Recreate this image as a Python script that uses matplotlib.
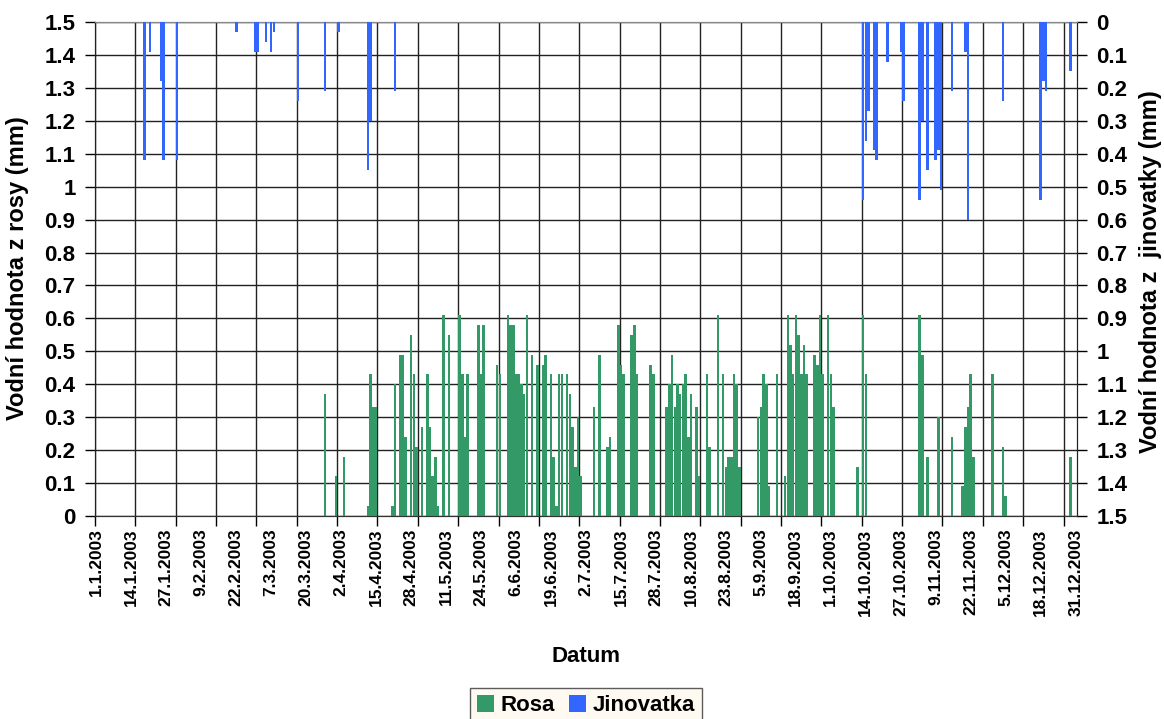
import matplotlib
matplotlib.use('Agg')
import matplotlib.pyplot as plt
import numpy as np
from matplotlib.patches import Patch
from matplotlib.ticker import FuncFormatter

plt.rcParams['font.family'] = ['Liberation Sans', 'DejaVu Sans']
plt.rcParams['font.weight'] = 'bold'

N_DAYS = 365
tick_labels = ['1.1.2003', '14.1.2003', '27.1.2003', '9.2.2003', '22.2.2003', '7.3.2003',
               '20.3.2003', '2.4.2003', '15.4.2003', '28.4.2003', '11.5.2003', '24.5.2003',
               '6.6.2003', '19.6.2003', '2.7.2003', '15.7.2003', '28.7.2003', '10.8.2003',
               '23.8.2003', '5.9.2003', '18.9.2003', '1.10.2003', '14.10.2003', '27.10.2003',
               '9.11.2003', '22.11.2003', '5.12.2003', '18.12.2003', '31.12.2003']
label_days = list(range(0, 365, 13))

# Rosa (dew) - day of year index (0 = 1.1.2003) and value in mm
rosa_days = [85, 89, 92, 101, 102, 103, 104, 110, 111, 113, 114, 115, 117, 118, 119, 121,
             123, 124, 125, 126, 127, 129, 131, 135, 136, 137, 138, 142, 143, 144, 149, 150,
             153, 154, 155, 156, 157, 158, 159, 160, 162, 164, 166, 167, 169, 170, 171, 172,
             173, 175, 176, 177, 178, 179, 180, 185, 187, 190, 191, 194, 195, 196, 199, 200,
             201, 206, 207, 212, 213, 214, 215, 216, 217, 218, 219, 220, 221, 223, 224, 227,
             228, 231, 233, 234, 235, 236, 237, 238, 239, 246, 247, 248, 249, 250, 253, 256,
             257, 258, 259, 260, 261, 262, 263, 264, 267, 268, 269, 270, 272, 273, 274, 283,
             285, 286, 306, 307, 309, 313, 318, 322, 323, 324, 325, 326, 333, 337, 338, 362]
rosa_values = [0.37, 0.12, 0.18, 0.03, 0.43, 0.33, 0.33, 0.03, 0.40, 0.49, 0.49, 0.24, 0.55, 0.43, 0.21, 0.27,
               0.43, 0.27, 0.12, 0.18, 0.03, 0.61, 0.55, 0.61, 0.43, 0.24, 0.43, 0.58, 0.43, 0.58, 0.46, 0.43,
               0.61, 0.58, 0.58, 0.43, 0.43, 0.40, 0.37, 0.61, 0.49, 0.46, 0.46, 0.49, 0.43, 0.18, 0.03, 0.43,
               0.43, 0.43, 0.37, 0.27, 0.15, 0.30, 0.12, 0.33, 0.49, 0.21, 0.24, 0.58, 0.46, 0.43, 0.55, 0.58,
               0.43, 0.46, 0.43, 0.33, 0.40, 0.49, 0.33, 0.40, 0.37, 0.40, 0.43, 0.24, 0.37, 0.33, 0.12, 0.43,
               0.21, 0.61, 0.43, 0.15, 0.18, 0.18, 0.43, 0.40, 0.15, 0.30, 0.33, 0.43, 0.40, 0.09, 0.43, 0.12,
               0.61, 0.52, 0.43, 0.61, 0.55, 0.43, 0.52, 0.43, 0.49, 0.46, 0.61, 0.43, 0.61, 0.43, 0.33, 0.15,
               0.61, 0.43, 0.61, 0.49, 0.18, 0.30, 0.24, 0.09, 0.27, 0.33, 0.43, 0.18, 0.43, 0.21, 0.06, 0.18]

# Jinovatka (hoarfrost)
jin_days = [18, 20, 24, 25, 30, 52, 59, 60, 63, 65, 66, 75, 85, 90, 101, 102, 111,
            285, 286, 287, 289, 290, 294, 299, 300, 306, 307, 309, 312, 313, 314, 318,
            323, 324, 337, 351, 352, 353, 362]
jin_values = [0.42, 0.09, 0.18, 0.42, 0.42, 0.03, 0.09, 0.09, 0.06, 0.09, 0.03, 0.24, 0.21, 0.03, 0.45, 0.30, 0.21,
              0.54, 0.36, 0.27, 0.39, 0.42, 0.12, 0.09, 0.24, 0.54, 0.30, 0.45, 0.42, 0.39, 0.51, 0.21,
              0.09, 0.60, 0.24, 0.54, 0.18, 0.21, 0.15]

rosa = np.zeros(N_DAYS)
rosa[rosa_days] = rosa_values
jin = np.zeros(N_DAYS)
jin[jin_days] = jin_values

GREEN = '#339966'
BLUE = '#3366FF'
W, H = 1164, 719

fig = plt.figure(figsize=(W / 100, H / 100), dpi=100)
ax = fig.add_axes([95 / W, 1 - 516 / H, (1077 - 95) / W, (516 - 22) / H])
x = np.arange(N_DAYS) + 0.5
ax.bar(x, rosa, width=0.95, color=GREEN, edgecolor='none', zorder=3)
ax.set_xlim(0, N_DAYS)
ax.set_ylim(0, 1.5)

fmt = FuncFormatter(lambda v, p: '%g' % round(v, 1))
ax.set_yticks(np.round(np.arange(0, 1.51, 0.1), 1))
ax.yaxis.set_major_formatter(fmt)
ax.tick_params(axis='y', which='major', length=7, width=1, pad=7, labelsize=16)

ax.set_xticks(np.arange(0, 361, 15))
ax.set_xticklabels([])
ax.tick_params(axis='x', which='major', length=7, width=1, direction='out')
ax.set_xticks(np.array(label_days) + 0.5, minor=True)
ax.set_xticklabels(tick_labels, minor=True, rotation=90, fontsize=12.5, fontweight='bold')
ax.tick_params(axis='x', which='minor', length=0, pad=9)

ax.set_axisbelow(True)
ax.grid(True, which='major', axis='both', color='#222222', linewidth=1)

ax2 = ax.twinx()
ax2.bar(x, jin, width=0.95, color=BLUE, edgecolor='none', zorder=3)
ax2.set_ylim(1.5, 0)
ax2.set_yticks(np.round(np.arange(0, 1.51, 0.1), 1))
ax2.yaxis.set_major_formatter(fmt)
ax2.tick_params(axis='y', which='major', length=7, width=1, pad=7, labelsize=16)

for a in (ax, ax2):
    a.spines['top'].set_color('#888888')
    a.spines['left'].set_color('#222222')
    a.spines['right'].set_color('#222222')
    a.spines['bottom'].set_color('#333333')

fig.text(18 / W, 1 - 268 / H, 'Vodní hodnota z rosy (mm)', rotation=90, ha='center', va='center',
         fontsize=17, fontweight='bold')
fig.text(1150 / W, 1 - 272 / H, 'Vodní hodnota z  jinovatky (mm)', rotation=90, ha='center', va='center',
         fontsize=17, fontweight='bold')
fig.text(586 / W, 1 - 657 / H, 'Datum', ha='center', va='center', fontsize=16, fontweight='bold')

handles = [Patch(facecolor=GREEN, edgecolor='none', label='Rosa'),
           Patch(facecolor=BLUE, edgecolor='none', label='Jinovatka')]
leg = fig.legend(handles=handles, loc='upper center', bbox_to_anchor=(586 / W, 1 - 688 / H), ncol=2,
                 frameon=True, fancybox=False, edgecolor='#333333', facecolor='#FFF9EE',
                 prop={'weight': 'bold', 'size': 16}, handlelength=0.8, handleheight=0.8,
                 handletextpad=0.3, columnspacing=0.6, borderpad=0.3, borderaxespad=0)
leg.get_frame().set_linewidth(1)

fig.savefig('out.png', dpi=100)
